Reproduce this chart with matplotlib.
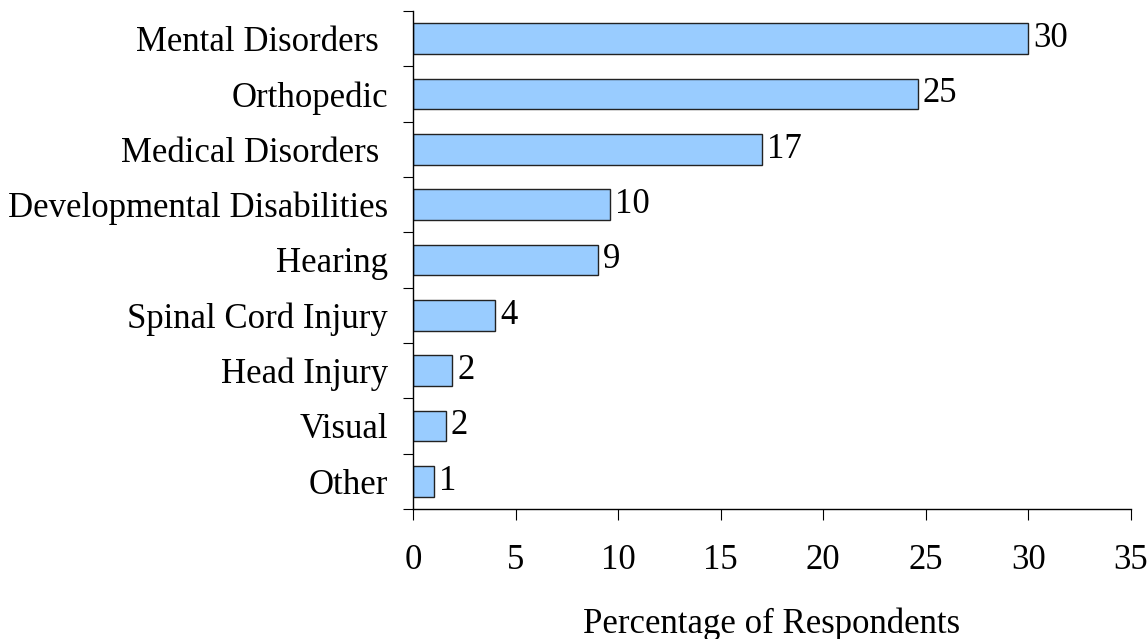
import matplotlib
matplotlib.use("Agg")
import matplotlib.pyplot as plt
import numpy as np

categories = ["Mental Disorders ", "Orthopedic", "Medical Disorders ",
              "Developmental Disabilities", "Hearing", "Spinal Cord Injury",
              "Head Injury", "Visual", "Other"]
values = [30.0, 24.6, 17.0, 9.6, 9.0, 4.0, 1.9, 1.6, 1.0]
x_ticks = [0, 5, 10, 15, 20, 25, 30, 35]
x_label = "Percentage of Respondents"

plt.rcParams["font.family"] = ["Liberation Serif", "DejaVu Serif"]
FS = 25

fig = plt.figure(figsize=(11.48, 6.39), dpi=100)
ax = fig.add_axes([413 / 1148, 130 / 639, 718 / 1148, 498 / 639])

n = len(categories)
ypos = np.arange(n)[::-1]
ax.barh(ypos, values, height=0.55, color="#99CCFF", edgecolor="#222222",
        linewidth=1.0, zorder=2)

for y, v in zip(ypos, values):
    ax.text(v + 0.25, y, f"{v:.0f}", va="center", ha="left", fontsize=FS)

ax.set_xlim(0, 35)
ax.set_ylim(-0.5, n - 0.5)
ax.set_xticks(x_ticks)
ax.set_xticklabels([str(t) for t in x_ticks], fontsize=FS)

# category names at bar centres, tick marks at category boundaries
ax.set_yticks(np.arange(-0.5, n, 1.0))
ax.set_yticklabels([])
ax.set_yticks(ypos, minor=True)
ax.set_yticklabels(categories, minor=True, fontsize=FS)
ax.tick_params(axis="y", which="minor", length=0, pad=18)
ax.tick_params(axis="y", which="major", direction="out", length=7.5, width=0.8)
ax.tick_params(axis="x", direction="out", length=8, width=0.8, pad=17)

for s in ("top", "right"):
    ax.spines[s].set_visible(False)
for s in ("left", "bottom"):
    ax.spines[s].set_linewidth(1.0)
    ax.spines[s].set_color("black")

ax.set_xlabel(x_label, fontsize=FS, labelpad=22)

fig.savefig("out.png", dpi=100)
